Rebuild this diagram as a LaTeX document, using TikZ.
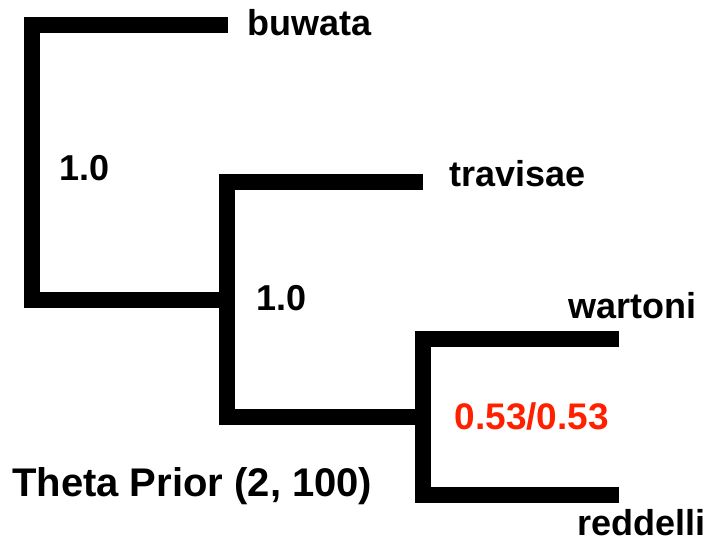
\documentclass[tikz,border=0pt]{standalone}
\usepackage{fontspec}
\setmainfont{Liberation Sans}
\definecolor{suppred}{RGB}{255,32,0}
\begin{document}
\begin{tikzpicture}[x=1pt,y=-1pt,
  branch/.style={line width=16pt,line join=miter,line cap=butt},
  taxon/.style={anchor=base west,inner sep=0pt,font=\bfseries\fontsize{36}{40}\selectfont},
  support/.style={anchor=base west,inner sep=0pt,font=\bfseries\fontsize{36}{40}\selectfont},
  caption/.style={anchor=base west,inner sep=0pt,font=\bfseries\fontsize{40}{44}\selectfont}]
\useasboundingbox (0,0) rectangle (723,546);
% node points
\coordinate (root) at (32,299.5);
\coordinate (n2) at (227.3,299.5);
\coordinate (n3) at (423.2,417.3);
% tips
\coordinate (tbuw) at (228,25.3);
\coordinate (ttra) at (423.3,182);
\coordinate (twar) at (619,339);
\coordinate (tred) at (619,495.3);
% branches
\draw[branch] (tbuw) -- (32,25.3) -- (32,299.5) -- (n2);
\draw[branch] (ttra) -- (227.3,182) -- (227.3,417.3) -- (n3);
\draw[branch] (twar) -- (423.2,339) -- (423.2,495.3) -- (tred);
% labels
\node[taxon] (lbuw) at (247,35) {buwata};
\node[taxon] (ltra) at (449,186.7) {travisae};
\node[taxon] (lwar) at (568,318.3) {wartoni};
\node[taxon] (lred) at (577,535) {reddelli};
\node[support] (s1) at (59.5,180) {1.0};
\node[support] (s2) at (256.5,310) {1.0};
\node[support,text=suppred,font=\bfseries\fontsize{37}{40}\selectfont] (s3) at (454.5,429) {0.53/0.53};
\node[caption] (cap) at (12,496.7) {Theta Prior (2, 100)};
\end{tikzpicture}
\end{document}
